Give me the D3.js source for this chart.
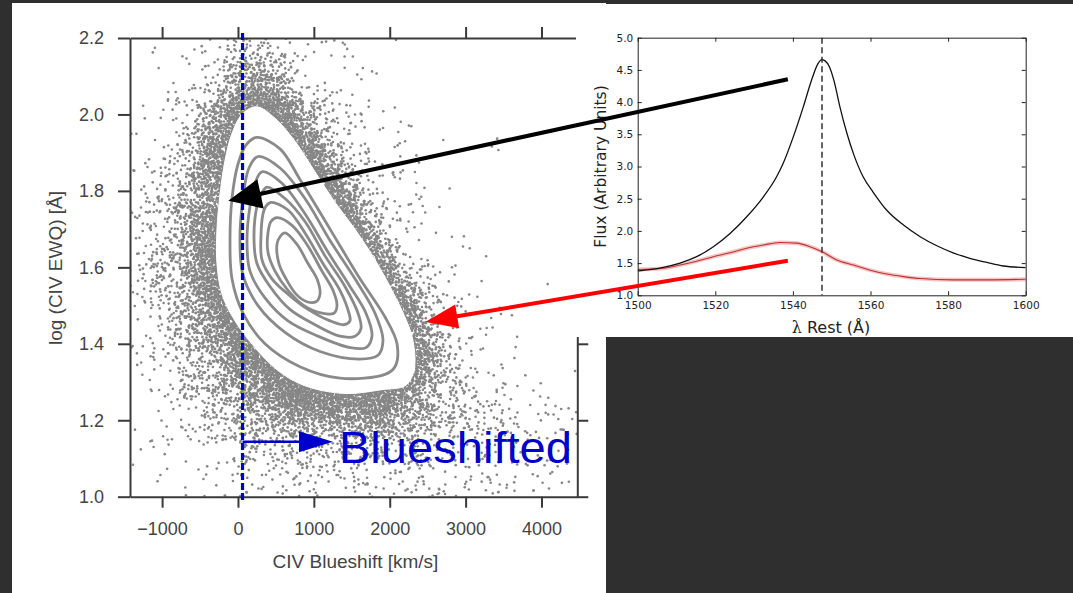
<!DOCTYPE html>
<html><head><meta charset="utf-8">
<script src="https://cdn.jsdelivr.net/npm/d3@7/dist/d3.min.js"></script>
<style>html,body{margin:0;padding:0;background:#2f2f2f;overflow:hidden}svg{display:block}</style>
</head><body>
<svg id="chart" width="1073" height="593"></svg>
<script>
// ===== Left chart: CIV blueshift vs log EW =====
const blueshiftTicks = [-1000, 0, 1000, 2000, 3000, 4000];
const logEWTicks = [1.0, 1.2, 1.4, 1.6, 1.8, 2.0, 2.2];
const blueshiftDomain = [-1423, 4472];
const logEWDomain = [1.0, 2.2];

// density of the scatter cloud read cell by cell (250 km/s x 0.05 dex); first row = 2.15-2.20
const densityCellStart = -1425;
const densityCellWidth = 250;
const densityCellTop = 2.2;
const densityCellHeight = 0.05;
const densityRows = [
  "011124 432111 010000 000000",
  "011235 653211 100000 000000",
  "011246 775321 110000 000000",
  "012358 997532 111000 000000",
  "112479 999643 211010 000000",
  "113589 999853 211000 010000",
  "123689 999974 221100 000000",
  "124689 999996 321110 001000",
  "134689 999998 422110 000000",
  "235799 999999 632111 000010",
  "235799 999999 852211 000000",
  "245799 999999 973211 100000",
  "245799 999999 995321 100100",
  "245799 999999 998522 110000",
  "235689 999999 999632 110100",
  "134679 999999 999742 211000",
  "234568 999999 999853 211100",
  "123457 899999 999753 221110",
  "123456 789999 998754 221110",
  "122345 678888 887654 332221",
  "112234 556666 665544 333222",
  "111223 444444 444333 332222",
  "111122 333333 333322 222221",
  "011112 222222 222222 221111"
];
const densityLevelValue = [0, 0.01, 0.03, 0.065, 0.12, 0.2, 0.31, 0.47, 0.7, 1.0];

// density contours [blueshift, logEW]
const contourOutermost = [[246,2.02],[488,1.99],[751,1.93],[1015,1.85],[1278,1.77],[1542,1.70],[1806,1.62],[2030,1.54],[2200,1.47],[2293,1.42],[2333,1.36],[2306,1.32],[2200,1.29],[1898,1.28],[1410,1.27],[883,1.29],[527,1.33],[224,1.39],[-40,1.46],[-211,1.53],[-277,1.61],[-277,1.70],[-237,1.79],[-171,1.88],[-79,1.95],[53,2.00]];
const contour1 = [[246,1.94],[554,1.91],[817,1.83],[1213,1.70],[1608,1.57],[1938,1.47],[2096,1.40],[2069,1.34],[1938,1.32],[1344,1.31],[817,1.34],[356,1.40],[66,1.48],[-79,1.57],[-105,1.67],[-79,1.78],[0,1.87],[105,1.92]];
const contour2 = [[264,1.89],[554,1.86],[883,1.78],[1213,1.67],[1542,1.57],[1806,1.48],[1911,1.41],[1845,1.37],[1608,1.36],[1081,1.38],[620,1.43],[264,1.50],[66,1.58],[26,1.67],[66,1.78],[145,1.86]];
const contour3 = [[316,1.85],[580,1.82],[883,1.74],[1186,1.64],[1476,1.55],[1687,1.48],[1766,1.42],[1687,1.39],[1476,1.39],[1054,1.42],[659,1.46],[356,1.52],[158,1.59],[119,1.67],[158,1.76],[224,1.82]];
const contour4 = [[382,1.81],[620,1.78],[883,1.72],[1147,1.63],[1410,1.55],[1582,1.48],[1621,1.44],[1542,1.42],[1344,1.42],[1015,1.45],[685,1.49],[422,1.55],[250,1.61],[211,1.68],[250,1.76],[303,1.79]];
const contour5 = [[435,1.77],[659,1.75],[883,1.69],[1120,1.61],[1344,1.54],[1463,1.48],[1476,1.46],[1397,1.45],[1213,1.46],[923,1.49],[659,1.53],[448,1.57],[316,1.62],[303,1.68],[330,1.74],[369,1.76]];
const contour6 = [[514,1.73],[712,1.71],[909,1.66],[1107,1.59],[1252,1.54],[1305,1.50],[1265,1.48],[1107,1.48],[870,1.50],[659,1.54],[488,1.59],[395,1.64],[395,1.69],[435,1.72]];
const contour7 = [[620,1.69],[778,1.66],[923,1.61],[1041,1.57],[1081,1.53],[1028,1.51],[909,1.51],[765,1.53],[633,1.57],[540,1.61],[514,1.66],[554,1.68]];

const blueshiftZero = 60;
const dashedLogEW = [2.213, 0.986];
const blueArrowLogEW = 1.144;
const blueArrowTip = 1252;
const labelShift = 1331;
const labelLogEW = 1.088;
const labelText = "Blueshifted";

// ===== Right chart: composite spectra =====
const restLambdaTicks = [1500, 1520, 1540, 1560, 1580, 1600];
const fluxTicks = [1.0, 1.5, 2.0, 2.5, 3.0, 3.5, 4.0, 4.5, 5.0];
const civCentre = 1547.5;
const lambdaBlack = [1500,1503,1506.6,1510.9,1515.2,1519.5,1523.8,1528.1,1532.4,1535.8,1537.5,1540.1,1542.7,1544.8,1546.5,1547.4,1548.3,1549.4,1550.6,1552.1,1553.9,1555.6,1558.1,1560.7,1564.2,1568.5,1572.8,1577.1,1581.3,1585.6,1590,1594.2,1600];
const fluxBlack = [1.38,1.40,1.435,1.50,1.60,1.755,1.96,2.22,2.53,2.84,3.05,3.46,3.93,4.34,4.60,4.66,4.64,4.55,4.33,3.93,3.52,3.20,2.84,2.60,2.32,2.09,1.91,1.77,1.66,1.575,1.51,1.455,1.43];
const lambdaRed = [1500,1506.6,1510.9,1515.2,1519.5,1523.8,1528.1,1532.4,1536.7,1541.0,1544.4,1547.4,1551.3,1555.6,1559.9,1564.2,1568.5,1572.8,1581.3,1590,1600];
const fluxRed = [1.40,1.42,1.47,1.53,1.60,1.66,1.73,1.78,1.82,1.81,1.755,1.68,1.55,1.47,1.39,1.33,1.29,1.26,1.24,1.24,1.25];

// annotation arrows: tail on a spectrum (right chart data), tip in the cloud (left chart data)
const arrowTailLambda = [1538.7, 1538.7];
const arrowTailFlux = [4.354, 1.537];
const arrowTipShift = [-128, 2473];
const arrowTipLogEW = [1.774, 1.458];
const arrowColours = ["#000000", "#ff0000"];

// ================= drawing =================
const svg = d3.select("#chart");
const defs = svg.append("defs");
svg.append("rect").attr("width", 1073).attr("height", 593).attr("fill", "#2f2f2f");
svg.append("rect").attr("x", 12).attr("y", 3).attr("width", 594).attr("height", 590).attr("fill", "#fff");

const xL = d3.scaleLinear().domain(blueshiftDomain).range([130, 577.3]);
const yL = d3.scaleLinear().domain(logEWDomain).range([496.7, 38]);

defs.append("clipPath").attr("id", "clipL").append("rect")
  .attr("x", 130).attr("y", 38).attr("width", 447.3).attr("height", 458.7);

// scatter cloud rendered from the density grid with a deterministic dither texture
const grid = densityRows.map(r => Array.from(r.replace(/ /g, ""), ch => densityLevelValue[+ch]));
const nR = grid.length, nC = grid[0].length;
function densityAt(vx, vy) {
  let fx = (vx - densityCellStart) / densityCellWidth - 0.5;
  let fy = (densityCellTop - vy) / densityCellHeight - 0.5;
  fx = Math.max(0, Math.min(nC - 1, fx)); fy = Math.max(0, Math.min(nR - 1, fy));
  const i0 = Math.floor(fx), j0 = Math.floor(fy);
  const i1 = Math.min(nC - 1, i0 + 1), j1 = Math.min(nR - 1, j0 + 1);
  const tx = fx - i0, ty = fy - j0;
  return (grid[j0][i0] * (1 - tx) + grid[j0][i1] * tx) * (1 - ty) + (grid[j1][i0] * (1 - tx) + grid[j1][i1] * tx) * ty;
}
function dither(i, j, s) {
  let h = (Math.imul(i, 374761393) + Math.imul(j, 668265263) + Math.imul(s, 1442695041)) | 0;
  h = Math.imul(h ^ (h >>> 13), 1274126177);
  h ^= h >>> 16;
  h = Math.imul(h, 2246822519); h ^= h >>> 13;
  return (h >>> 0) / 4294967296;
}
const step = 1.6;
const dots = [];
const [px0, px1] = xL.range(), [py1, py0] = yL.range();
for (let i = 0; px0 + i * step < px1; i++) {
  for (let j = 0; py0 + j * step < py1; j++) {
    const px = px0 + (i + 0.5) * step + (dither(i, j, 2) - 0.5) * step * 1.6;
    const py = py0 + (j + 0.5) * step + (dither(i, j, 3) - 0.5) * step * 1.6;
    const vx = xL.invert(px), vy = yL.invert(py);
    if (dither(i, j, 1) < densityAt(vx, vy)) dots.push([vx, vy]);
  }
}
const L = svg.append("g");
L.append("g").attr("clip-path", "url(#clipL)")
  .selectAll("circle").data(dots).join("circle")
  .attr("cx", d => xL(d[0])).attr("cy", d => yL(d[1])).attr("r", 1.3).attr("fill", "#868686");

const contourPath = d3.line().x(d => xL(d[0])).y(d => yL(d[1])).curve(d3.curveCatmullRomClosed.alpha(0.5));
L.append("path").attr("d", contourPath(contourOutermost)).attr("fill", "#fff").attr("stroke", "#fff").attr("stroke-width", 1);
L.append("g").selectAll("path").data([contour1, contour2, contour3, contour4, contour5, contour6, contour7]).join("path")
  .attr("d", contourPath).attr("fill", "none").attr("stroke", "#8a8a8a").attr("stroke-width", 2.8);

// axes (seaborn "ticks" style)
const axCol = "#3a3a3a";
function styleLeft(g) {
  g.attr("font-family", "'Liberation Sans', Arial, sans-serif").attr("font-size", 18);
  g.select(".domain").attr("stroke", axCol).attr("stroke-width", 2);
  g.selectAll(".tick line").attr("stroke", axCol).attr("stroke-width", 2);
  g.selectAll(".tick text").attr("fill", "#444");
}
L.append("g").attr("transform", "translate(0,496.7)")
  .call(d3.axisBottom(xL).tickValues(blueshiftTicks).tickSize(11).tickSizeOuter(0).tickPadding(15).tickFormat(d3.format("d"))).call(styleLeft);
L.append("g").attr("transform", "translate(0,38)")
  .call(d3.axisTop(xL).tickValues(blueshiftTicks).tickSize(11).tickSizeOuter(0).tickFormat("")).call(styleLeft);
L.append("g").attr("transform", "translate(130,0)")
  .call(d3.axisLeft(yL).tickValues(logEWTicks).tickSize(12).tickSizeOuter(0).tickPadding(14).tickFormat(d3.format(".1f"))).call(styleLeft);
L.append("g").attr("transform", "translate(577.3,0)")
  .call(d3.axisRight(yL).tickValues(logEWTicks).tickSize(11).tickSizeOuter(0).tickFormat("")).call(styleLeft);

L.append("text").attr("x", 355.5).attr("y", 568)
  .attr("text-anchor", "middle").attr("font-family", "'Liberation Sans', Arial, sans-serif").attr("font-size", 19).attr("fill", "#444")
  .text("CIV Blueshift [km/s]");
L.append("text").attr("transform", "translate(62,268) rotate(-90)")
  .attr("text-anchor", "middle").attr("font-family", "'Liberation Sans', Arial, sans-serif").attr("font-size", 19).attr("fill", "#444")
  .text("log (CIV EWQ) [Å]");

// blueshift annotation
const blue = "#0000cc";
L.append("line").attr("x1", xL(blueshiftZero)).attr("x2", xL(blueshiftZero))
  .attr("y1", yL(dashedLogEW[0])).attr("y2", yL(dashedLogEW[1]))
  .attr("stroke", blue).attr("stroke-width", 3.2).attr("stroke-dasharray", "7,3");

function arrow(g, x1, y1, x2, y2, color, width, headLen, headHalf) {
  const dx = x2 - x1, dy = y2 - y1, len = Math.hypot(dx, dy), ux = dx / len, uy = dy / len;
  const bx = x2 - ux * headLen, by = y2 - uy * headLen;
  g.append("line").attr("x1", x1).attr("y1", y1).attr("x2", bx + ux * 3).attr("y2", by + uy * 3)
    .attr("stroke", color).attr("stroke-width", width);
  g.append("path").attr("d", `M${x2},${y2}L${bx - uy * headHalf},${by + ux * headHalf}L${bx + uy * headHalf},${by - ux * headHalf}Z`)
    .attr("fill", color);
}
arrow(L, xL(blueshiftZero), yL(blueArrowLogEW), xL(blueArrowTip), yL(blueArrowLogEW), blue, 2.5, 34, 10.5);
L.append("text").attr("x", xL(labelShift)).attr("y", yL(labelLogEW))
  .attr("font-family", "'Liberation Sans', Arial, sans-serif").attr("font-size", 45).attr("fill", blue)
  .attr("textLength", 233).attr("lengthAdjust", "spacingAndGlyphs")
  .text(labelText);

// ===== right panel =====
svg.append("rect").attr("x", 576).attr("y", 4).attr("width", 497).attr("height", 333).attr("fill", "#fff");
const R = svg.append("g");
const xR = d3.scaleLinear().domain([1500, 1600]).range([637.7, 1025.7]);
const yR = d3.scaleLinear().domain([1, 5]).range([295.3, 37.7]);
defs.append("clipPath").attr("id", "clipR").append("rect")
  .attr("x", 637.7).attr("y", 37.7).attr("width", 388).attr("height", 257.6);

const specLine = d3.line().curve(d3.curveMonotoneX);
const redPts = lambdaRed.map((l, i) => [xR(l), yR(fluxRed[i])]);
const blackPts = lambdaBlack.map((l, i) => [xR(l), yR(fluxBlack[i])]);
const curves = R.append("g").attr("clip-path", "url(#clipR)");
curves.append("path").attr("d", specLine(redPts)).attr("fill", "none").attr("stroke", "rgba(235,120,120,0.45)").attr("stroke-width", 4);
curves.append("path").attr("d", specLine(redPts)).attr("fill", "none").attr("stroke", "#b83535").attr("stroke-width", 1.1);
curves.append("path").attr("d", specLine(blackPts)).attr("fill", "none").attr("stroke", "#111").attr("stroke-width", 1.3);
R.append("line").attr("x1", xR(civCentre)).attr("x2", xR(civCentre)).attr("y1", yR(5)).attr("y2", yR(1))
  .attr("stroke", "#333").attr("stroke-width", 1.5).attr("stroke-dasharray", "6,3.5");

function styleRight(g) {
  g.attr("font-family", "'DejaVu Sans', sans-serif").attr("font-size", 10.5);
  g.select(".domain").attr("stroke", "#222").attr("stroke-width", 1);
  g.selectAll(".tick line").attr("stroke", "#222").attr("stroke-width", 1);
  g.selectAll(".tick text").attr("fill", "#222");
}
R.append("g").attr("transform", "translate(0,295.3)")
  .call(d3.axisBottom(xR).tickValues(restLambdaTicks).tickSize(-4).tickSizeOuter(0).tickPadding(6.2).tickFormat(d3.format("d"))).call(styleRight);
R.append("g").attr("transform", "translate(0,37.7)")
  .call(d3.axisTop(xR).tickValues(restLambdaTicks).tickSize(-4).tickSizeOuter(0).tickFormat("")).call(styleRight);
R.append("g").attr("transform", "translate(637.7,0)")
  .call(d3.axisLeft(yR).tickValues(fluxTicks).tickSize(-4).tickSizeOuter(0).tickPadding(4.5).tickFormat(d3.format(".1f"))).call(styleRight);
R.append("g").attr("transform", "translate(1025.7,0)")
  .call(d3.axisRight(yR).tickValues(fluxTicks).tickSize(-4).tickSizeOuter(0).tickFormat("")).call(styleRight);

const xl = R.append("text").attr("x", 831).attr("y", 333).attr("text-anchor", "middle")
  .attr("font-family", "'DejaVu Sans', sans-serif").attr("font-size", 16).attr("fill", "#222");
xl.append("tspan").attr("font-family", "'DejaVu Serif', serif").text("λ");
xl.append("tspan").text(" Rest (Å)");
R.append("text").attr("transform", "translate(606,166.5) rotate(-90)").attr("text-anchor", "middle")
  .attr("font-family", "'DejaVu Sans', sans-serif").attr("font-size", 15.5).attr("fill", "#222")
  .text("Flux (Arbitrary Units)");

// ===== arrows linking spectra to the cloud =====
const A = svg.append("g");
arrowColours.forEach((c, i) => {
  arrow(A, xR(arrowTailLambda[i]), yR(arrowTailFlux[i]), xL(arrowTipShift[i]), yL(arrowTipLogEW[i]),
        c, 4, i === 0 ? 33 : 32, i === 0 ? 15 : 12);
});
</script>
</body></html>
